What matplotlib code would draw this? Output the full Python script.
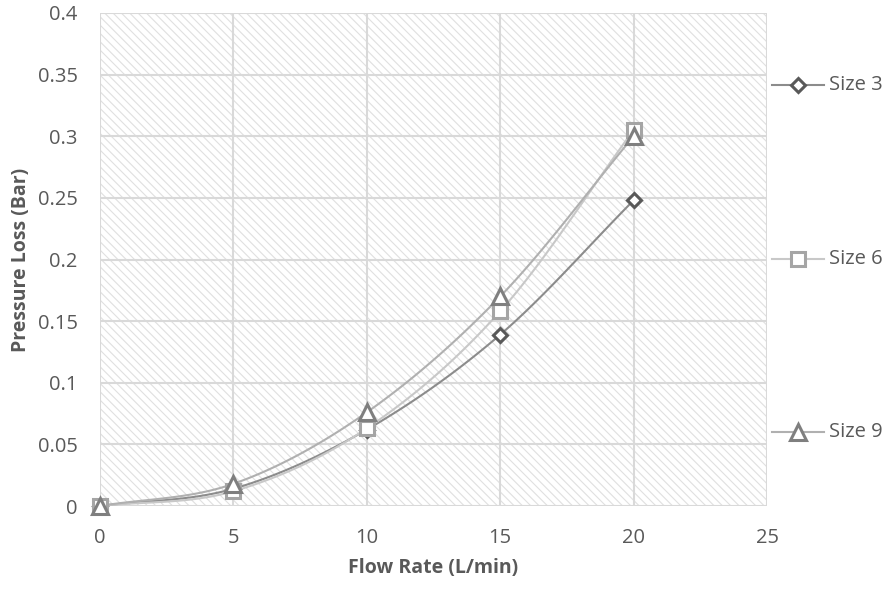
import numpy as np
import matplotlib
matplotlib.use("Agg")
import matplotlib.pyplot as plt
from matplotlib.patches import Rectangle
from matplotlib.lines import Line2D

flow = [0, 5, 10, 15, 20]
size3 = [0.0, 0.014, 0.062, 0.139, 0.248]
size6 = [0.0, 0.012, 0.063, 0.158, 0.305]
size9 = [0.0, 0.018, 0.076, 0.170, 0.300]
labels = ["Size 3", "Size 6", "Size 9"]
x_ticks = [0, 5, 10, 15, 20, 25]
y_ticks = [0, 0.05, 0.1, 0.15, 0.2, 0.25, 0.3, 0.35, 0.4]
y_tick_labels = ["0", "0.05", "0.1", "0.15", "0.2", "0.25", "0.3", "0.35", "0.4"]

plt.rcParams['font.family'] = ['Open Sans', 'DejaVu Sans']
plt.rcParams['hatch.linewidth'] = 0.8


def smooth(xs, ys, n=30):
    # Catmull-Rom style smoothing through the points (like Excel smoothed lines)
    xs = np.asarray(xs, float); ys = np.asarray(ys, float)
    px = np.concatenate([[2 * xs[0] - xs[1]], xs, [2 * xs[-1] - xs[-2]]])
    py = np.concatenate([[2 * ys[0] - ys[1]], ys, [2 * ys[-1] - ys[-2]]])
    ox, oy = [], []
    for i in range(1, len(px) - 2):
        t = np.linspace(0, 1, n)
        p0, p1, p2, p3 = (np.array([px[j], py[j]]) for j in range(i - 1, i + 3))
        b1 = p1 + (p2 - p0) / 6
        b2 = p2 - (p3 - p1) / 6
        pts = ((1 - t) ** 3)[:, None] * p1 + (3 * (1 - t) ** 2 * t)[:, None] * b1 \
            + (3 * (1 - t) * t ** 2)[:, None] * b2 + (t ** 3)[:, None] * p2
        ox.extend(pts[:, 0]); oy.extend(pts[:, 1])
    return np.array(ox), np.array(oy)


fig = plt.figure(figsize=(8.94, 5.9), dpi=100)
ax = fig.add_axes([100 / 894, 1 - 506 / 590, 667 / 894, 493 / 590])
ax.set_xlim(0, 25)
ax.set_ylim(0, 0.4)

ax.add_patch(Rectangle((0, 0), 1, 1, transform=ax.transAxes, facecolor='white',
                       edgecolor='#E0E0E0', hatch='\\\\\\\\', linewidth=0, zorder=0))

ax.set_xticks(x_ticks)
ax.set_yticks(y_ticks)
ax.set_yticklabels(y_tick_labels)
ax.grid(True, color='#D9D9D9', linewidth=1.5, zorder=1)
for s in ax.spines.values():
    s.set_visible(False)
ax.tick_params(length=0, labelsize=14.5, labelcolor='#595959')
ax.tick_params(axis='x', pad=16)
ax.tick_params(axis='y', pad=16)

series = [size3, size6, size9]
markers = ['D', 's', '^']
mcolors = ['#595959', '#A5A5A5', '#7F7F7F']
lcolors = ['#8C8C8C', '#C8C8C8', '#B0B0B0']
msizes = [7, 10, 11]
for ys, m, mc, lc, ms in zip(series, markers, mcolors, lcolors, msizes):
    sx, sy = smooth(flow, ys)
    ax.plot(sx, sy, color=lc, linewidth=1.5, zorder=3, clip_on=False)
    ax.plot(flow, ys, linestyle='none', marker=m, markersize=ms,
            markerfacecolor='white', markeredgecolor=mc, markeredgewidth=2.2,
            zorder=4, clip_on=False)

ax.set_xlabel("Flow Rate (L/min)", fontsize=14, fontweight='bold', color='#595959', labelpad=7)
ax.set_ylabel("Pressure Loss (Bar)", fontsize=14, fontweight='bold', color='#595959', labelpad=5)

# legend entries on the right, spread vertically
leg_y = [85, 259, 432]
for lab, ypix, m, mc, lc, ms in zip(labels, leg_y, markers, mcolors, lcolors, msizes):
    yf = 1 - ypix / 590
    fig.add_artist(Line2D([772 / 894, 824 / 894], [yf, yf], transform=fig.transFigure,
                          color=lc, linewidth=1.5))
    fig.add_artist(Line2D([798 / 894], [yf], transform=fig.transFigure, linestyle='none',
                          marker=m, markersize=ms, markerfacecolor='white',
                          markeredgecolor=mc, markeredgewidth=2.2))
    fig.text(829 / 894, yf, lab, fontsize=14.5, color='#595959', va='center', ha='left')

fig.savefig("out.png", dpi=100)
